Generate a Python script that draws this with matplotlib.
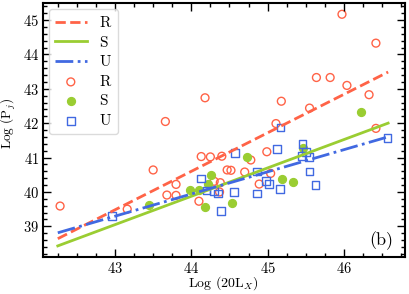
import numpy as np
import matplotlib
matplotlib.use("Agg")
import matplotlib.pyplot as plt
from matplotlib.ticker import MultipleLocator

plt.rcParams['font.family'] = 'serif'
plt.rcParams['font.serif'] = ['cmr10']
plt.rcParams['mathtext.fontset'] = 'cm'
plt.rcParams['axes.formatter.use_mathtext'] = True

# --- donnees ---
r_x = [42.28, 43.16, 43.50, 43.66, 43.68, 43.80, 43.80, 44.10, 44.13, 44.18, 44.25,
       44.30, 44.38, 44.37, 44.40, 44.47, 44.52, 44.70, 44.78, 44.89, 44.99, 45.04,
       45.11, 45.18, 45.55, 45.64, 45.82, 45.975, 46.04, 46.33, 46.42, 46.42]
r_y = [39.59, 39.50, 40.64, 42.05, 39.91, 40.22, 39.90, 39.73, 41.03, 42.74, 41.02,
       40.31, 40.27, 40.00, 41.04, 40.64, 40.63, 40.58, 40.93, 40.23, 41.17, 40.54,
       41.99, 42.64, 42.44, 43.33, 43.33, 45.17, 43.10, 42.83, 44.33, 41.85]

s_x = [43.44, 43.98, 44.10, 44.18, 44.22, 44.26, 44.53, 44.73, 45.19, 45.33, 45.47, 46.23]
s_y = [39.63, 40.05, 40.06, 39.57, 40.23, 40.50, 39.68, 41.01, 40.37, 40.29, 41.28, 42.33]

u_x = [42.96, 44.13, 44.20, 44.30, 44.35, 44.39, 44.56, 44.57, 44.86, 44.86, 44.98,
       45.02, 45.12, 45.16, 45.17, 45.46, 45.50, 45.45, 45.54, 45.55, 45.63, 46.57]
u_y = [39.30, 40.39, 40.04, 40.02, 39.95, 39.45, 39.99, 41.13, 40.60, 39.96, 40.32,
       40.23, 41.25, 40.08, 41.87, 41.40, 41.17, 41.04, 41.01, 40.60, 40.21, 41.57]

# ajustements lineaires y = a*x + b
fit_range = [42.25, 46.58]
r_fit = (1.12, -8.68)
s_fit = (0.825, 3.574)
u_fit = (0.645, 11.56)

c_r, c_s, c_u = 'tomato', 'yellowgreen', 'royalblue'

fig = plt.figure(figsize=(4.09, 2.94), dpi=100)
ax = fig.add_axes([0.104, 0.125, 0.886, 0.865])

xf = np.array(fit_range)
ax.plot(xf, r_fit[0]*xf + r_fit[1], '--', color=c_r, lw=2, label=r'$\mathrm{R}$')
ax.plot(xf, s_fit[0]*xf + s_fit[1], '-', color=c_s, lw=2, label=r'$\mathrm{S}$')
ax.plot(xf, u_fit[0]*xf + u_fit[1], '-.', color=c_u, lw=2, label=r'$\mathrm{U}$')

ax.scatter(r_x, r_y, s=32, facecolors='none', edgecolors=c_r, linewidths=1, label=r'$\mathrm{R}$')
ax.scatter(s_x, s_y, s=32, color=c_s, label=r'$\mathrm{S}$')
ax.scatter(u_x, u_y, s=30, marker='s', facecolors='none', edgecolors=c_u, linewidths=1, label=r'$\mathrm{U}$')

ax.set_xlim(42.05, 46.8)
ax.set_ylim(38.1, 45.5)
ax.xaxis.set_major_locator(MultipleLocator(1))
ax.xaxis.set_minor_locator(MultipleLocator(0.25))
ax.yaxis.set_major_locator(MultipleLocator(1))
ax.yaxis.set_minor_locator(MultipleLocator(0.2))
ax.tick_params(which='both', direction='in', top=True, right=True, labelsize=10.5, width=1, pad=2.5)
ax.tick_params(which='major', length=6)
ax.tick_params(which='minor', length=3)
for sp in ax.spines.values():
    sp.set_linewidth(1.5)

ax.set_xlabel(r'Log (20L$_X$)', fontsize=10)
ax.set_ylabel(r'Log (P$_j$)', fontsize=9.5)
# positions des titres d'axes (sinon coupes au bord)
ax.xaxis.set_label_coords(0.5, -0.068)
ax.yaxis.set_label_coords(-0.068, 0.525)
ax.text(0.936, 0.066, '(b)', transform=ax.transAxes, ha='center', va='center', fontsize=13)

ax.legend(loc='upper left', fontsize=11, labelspacing=0.3, borderaxespad=0.4,
          handlelength=2.1, edgecolor='lightgray')

fig.savefig('out.png', dpi=100)
